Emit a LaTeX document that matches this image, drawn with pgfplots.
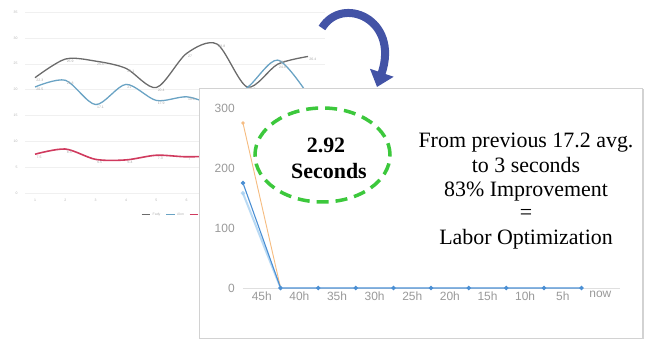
\documentclass[border=0pt]{standalone}
\usepackage{fontspec}
\setmainfont{Liberation Serif}
\setsansfont{Liberation Sans}
\usepackage{pgfplots}
\pgfplotsset{compat=1.18}
\usetikzlibrary{shadows,arrows.meta}
\definecolor{fadygray}{HTML}{6B6B6B}
\definecolor{alonblue}{HTML}{6AA3C4}
\definecolor{rafired}{HTML}{D03A5E}
\definecolor{fgblue}{HTML}{4A8FD4}
\definecolor{fgorange}{HTML}{F6BC80}
\definecolor{fglight}{HTML}{A8D1F2}
\definecolor{ringgreen}{HTML}{3CC83C}
\definecolor{arrowblue}{HTML}{4353A6}
\definecolor{ticktext}{HTML}{9A9A9A}
\begin{document}
\begin{tikzpicture}
\path[use as bounding box] (0,0) rectangle (647bp,341bp);
% ---------- background chart ----------
\begin{axis}[at={(25bp,148bp)}, anchor=south west, scale only axis,
 width=300bp, height=181bp,
 xmin=0.67, xmax=10.56, ymin=0, ymax=35,
 ytick={0,5,...,35}, xtick={1,...,10},
 ymajorgrids, major grid style={draw=gray!12, line width=0.4bp},
 axis line style={draw=none}, tick style={draw=none},
 /pgf/number format/assume math mode=true,
 tick label style={font=\sffamily\fontsize{3.5}{4}\selectfont, text=gray!60},
 yticklabel style={xshift=-4bp}, xticklabel style={yshift=-3bp},
 legend style={at={(0.5,-0.085)}, anchor=north, draw=none, fill=none,
   font=\sffamily\fontsize{3.5}{4}\selectfont, text=gray!60,
   /tikz/every even column/.append style={column sep=3bp}},
 legend columns=3,
 legend image code/.code={\draw[#1, line width=1.2bp] (0cm,0cm) -- (0.3cm,0cm);},
 nodes near coords,
 every node near coord/.append style={font=\sffamily\fontsize{3.5}{4}\selectfont, text=gray!70, anchor=north west, inner sep=0.8bp},
]
\addplot[fadygray, line width=1.3bp, smooth, no markers] coordinates {
 (1,22.3) (2,25.9) (3,25.5) (4,24.1) (5,20.4) (6,27) (7,28.8) (8,20.5) (9,24.9) (10,26.4)};
\addlegendentry{Fady}
\addplot[alonblue, line width=1.3bp, smooth, no markers] coordinates {
 (1,20.5) (2,21.8) (3,17.1) (4,21) (5,17.9) (6,18.6) (7,17.3) (8,20.4) (9,25.7) (10,19)};
\addlegendentry{Alon}
\addplot[rafired, line width=1.6bp, smooth, no markers] coordinates {
 (1,7.5) (2,8.5) (3,6.5) (4,6.4) (5,7.3) (6,7) (7,7.2) (8,7.6) (9,6.9) (10,7.4)};
\addlegendentry{Rafi}
\end{axis}
% ---------- foreground box ----------
\draw[draw=gray!35, fill=white, drop shadow={shadow xshift=1.5bp, shadow yshift=-1.5bp, opacity=0.35}]
 (199bp,3bp) rectangle (642bp,253bp);
% ---------- foreground chart ----------
\begin{axis}[at={(239.2bp,53bp)}, anchor=south west, scale only axis,
 width=380bp, height=180bp,
 xmin=-0.1, xmax=10, ymin=0, ymax=300,
 ytick={0,100,200,300},
 xtick={0.5,1.5,...,9.5},
 xticklabels={45h,40h,35h,30h,25h,20h,15h,10h,5h,now},
 axis line style={draw=none}, tick style={draw=none},
 /pgf/number format/assume math mode=true,
 tick label style={font=\sffamily\fontsize{12}{14}\selectfont, text=ticktext},
 yticklabel style={xshift=-1bp},
 clip=false,
]
\draw[gray!25, line width=0.8bp] (axis cs:0,0) -- (axis cs:10.03,0);
\addplot[fglight, line width=2bp, opacity=0.8, mark=*, mark size=1bp] coordinates {(0,158) (1,0)};
\addplot[fgorange, line width=0.9bp, mark=*, mark size=1.2bp] coordinates {(0,275) (1,0)};
\addplot[fgblue, line width=1.1bp, mark=*, mark size=1.6bp] coordinates {
 (0,175) (1,0) (2,0) (3,0) (4,0) (5,0) (6,0) (7,0) (8,0) (9,0)};
\end{axis}
% ---------- annotations ----------
\draw[ringgreen, line width=3.5bp, dash pattern=on 12bp off 7bp]
 (322.5bp,186bp) ellipse [x radius=67.5bp, y radius=47bp];
\node[font=\bfseries\fontsize{22}{24}\selectfont, anchor=base, inner sep=0] at (326bp,188bp) {2.92};
\node[font=\bfseries\fontsize{22}{24}\selectfont, anchor=base, inner sep=0] at (329bp,162bp) {Seconds};
\node[font=\fontsize{22}{24}\selectfont, anchor=base, inner sep=0] at (526bp,193bp) {From previous 17.2 avg.};
\node[font=\fontsize{22}{24}\selectfont, anchor=base, inner sep=0] at (526bp,168bp) {to 3 seconds};
\node[font=\fontsize{22}{24}\selectfont, anchor=base, inner sep=0] at (526bp,144bp) {83\% Improvement};
\node[font=\fontsize{22}{24}\selectfont, anchor=base, inner sep=0] at (526bp,121bp) {=};
\node[font=\fontsize{22}{24}\selectfont, anchor=base, inner sep=0] at (526bp,96bp) {Labor Optimization};
% ---------- curved arrow ----------
\draw[arrowblue, line width=8bp, -{Triangle[length=15bp,width=24bp]}]
 (322bp,313bp) .. controls (342bp,346bp) and (400bp,322bp) .. (377bp,254bp);
\end{tikzpicture}
\end{document}
